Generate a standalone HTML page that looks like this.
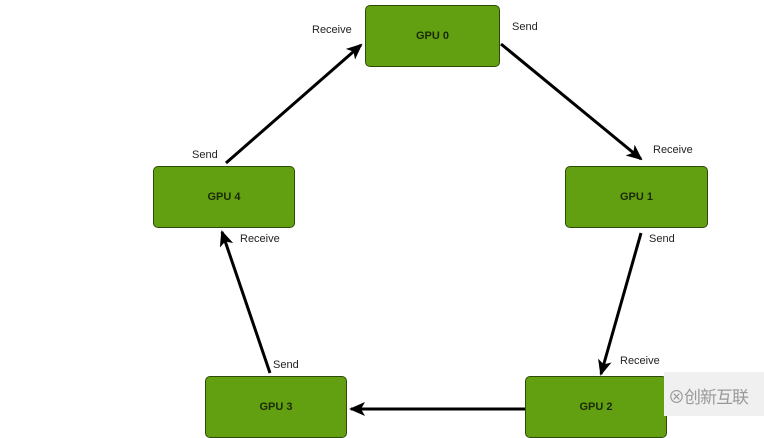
<html><head><style>body{margin:0;background:#fff;width:764px;height:416px;overflow:hidden;position:relative;font-family:"Liberation Sans",sans-serif}
.b{position:absolute;background:#62a012;border:1.5px solid #2d4a08;border-radius:5px;box-sizing:border-box;display:flex;align-items:center;justify-content:center;font-weight:bold;font-size:11px;color:#1a2a05}
.l{position:absolute;font-size:11px;color:#222}</style></head><body>
<div class="b" style="left:365px;top:5px;width:135px;height:62px">GPU 0</div>
<div class="b" style="left:565px;top:166px;width:143px;height:62px">GPU 1</div>
<div class="b" style="left:153px;top:166px;width:142px;height:62px">GPU 4</div>
<div class="b" style="left:205px;top:376px;width:142px;height:62px">GPU 3</div>
<div class="b" style="left:525px;top:376px;width:142px;height:62px">GPU 2</div>
<div style="position:absolute;left:664px;top:372px;width:100px;height:44px;background:#f0f0f0"></div>
<div style="position:absolute;left:668px;top:383px;font:17px 'Noto Sans CJK SC',sans-serif;color:#999;white-space:nowrap;letter-spacing:-1px">⊗创新互联</div>
<svg width="764" height="416" style="position:absolute;left:0;top:0">
<defs><marker id="a" markerWidth="16" markerHeight="14" refX="14" refY="7" orient="auto" markerUnits="userSpaceOnUse"><path d="M0,0 L16,7 L0,14 L4,7z" fill="#000"/></marker></defs>
<g stroke="#000" stroke-width="3" marker-end="url(#a)">
<line x1="226" y1="163" x2="361" y2="45"/>
<line x1="501" y1="44" x2="641" y2="159"/>
<line x1="641" y1="233" x2="601" y2="374"/>
<line x1="525" y1="409" x2="351" y2="409"/>
<line x1="270" y1="373" x2="222" y2="232"/>
</g></svg>
<div class="l" style="left:312px;top:24px">Receive</div>
<div class="l" style="left:512px;top:21px">Send</div>
<div class="l" style="left:653px;top:144px">Receive</div>
<div class="l" style="left:649px;top:233px">Send</div>
<div class="l" style="left:620px;top:355px">Receive</div>
<div class="l" style="left:273px;top:359px">Send</div>
<div class="l" style="left:240px;top:233px">Receive</div>
<div class="l" style="left:192px;top:149px">Send</div>
</body></html>
